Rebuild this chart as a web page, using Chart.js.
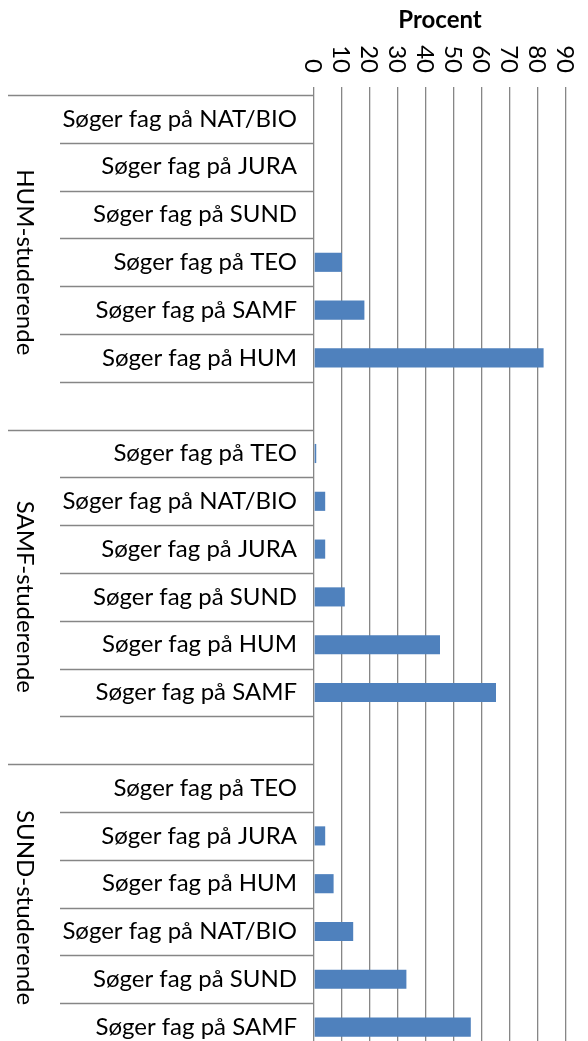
<!DOCTYPE html>
<html>
<head>
<meta charset="utf-8">
<script src="https://cdn.jsdelivr.net/npm/chart.js@4"></script>
<style>
  html, body { margin: 0; padding: 0; background: #fff; overflow: hidden; }
  canvas { display: block; }
</style>
</head>
<body>
<canvas id="myChart" width="588" height="1060"></canvas>
<script>
// rows per group, top to bottom
const humLabels = ["Søger fag på NAT/BIO", "Søger fag på JURA", "Søger fag på SUND", "Søger fag på TEO", "Søger fag på SAMF", "Søger fag på HUM"];
const humValues = [0, 0, 0, 10, 18, 82];

const samfLabels = ["Søger fag på TEO", "Søger fag på NAT/BIO", "Søger fag på JURA", "Søger fag på SUND", "Søger fag på HUM", "Søger fag på SAMF"];
const samfValues = [0.8, 4, 4, 11, 45, 65];

const sundLabels = ["Søger fag på TEO", "Søger fag på JURA", "Søger fag på HUM", "Søger fag på NAT/BIO", "Søger fag på SUND", "Søger fag på SAMF"];
const sundValues = [0, 4, 7, 14, 33, 56];

const groupNames = ["HUM-studerende", "SAMF-studerende", "SUND-studerende"];
const xTicks = [0, 10, 20, 30, 40, 50, 60, 70, 80, 90];

// blank row between groups, like the original
const labels = [...humLabels, "", ...samfLabels, "", ...sundLabels];
const values = [...humValues, null, ...samfValues, null, ...sundValues];
const groupRanges = [[0, 7], [7, 14], [14, 20]];

const FONT = "Lato, 'Open Sans', sans-serif";
const GRID = "#868686";

const extras = {
  id: "extras",
  afterDraw(chart) {
    const ctx = chart.ctx;
    const x = chart.scales.x;
    const y = chart.scales.y;
    const left = chart.chartArea.left;
    const starts = groupRanges.map((g) => g[0]);
    ctx.save();
    // row separators in the label area
    ctx.strokeStyle = GRID;
    ctx.lineWidth = 1.3;
    for (let i = 0; i <= labels.length; i++) {
      const py = Math.round(y.getPixelForValue(i - 0.5)) + 0.5;
      const x0 = starts.includes(i) ? 8 : 60;
      ctx.beginPath();
      ctx.moveTo(x0, py);
      ctx.lineTo(left, py);
      ctx.stroke();
    }
    // rotated x tick labels above the axis
    ctx.fillStyle = "#000";
    ctx.font = "24px " + FONT;
    ctx.textAlign = "right";
    ctx.textBaseline = "middle";
    xTicks.forEach((t) => {
      ctx.save();
      ctx.translate(x.getPixelForValue(t) - 1, 73);
      ctx.rotate(Math.PI / 2);
      ctx.fillText(String(t), 0, 0);
      ctx.restore();
    });
    // group labels
    ctx.textAlign = "center";
    groupRanges.forEach((g, k) => {
      const top = y.getPixelForValue(g[0] - 0.5);
      const bottom = y.getPixelForValue(g[1] - 0.5);
      ctx.save();
      ctx.translate(25, (top + bottom) / 2);
      ctx.rotate(Math.PI / 2);
      ctx.fillText(groupNames[k], 0, 0);
      ctx.restore();
    });
    ctx.restore();
  },
};

const ctx = document.getElementById("myChart").getContext("2d");
const chart = new Chart(ctx, {
  type: "bar",
  data: {
    labels: labels,
    datasets: [
      {
        data: values,
        backgroundColor: "#4F81BD",
        borderWidth: 0,
        categoryPercentage: 1,
        barPercentage: 0.4,
      },
    ],
  },
  options: {
    indexAxis: "y",
    responsive: false,
    animation: false,
    layout: { padding: { top: 0, left: 0, right: 22, bottom: 9 } },
    plugins: {
      legend: { display: false },
      tooltip: { enabled: false },
      title: {
        display: true,
        text: "Procent",
        fullSize: false,
        color: "#000",
        font: { family: FONT, size: 24, weight: "bold" },
        padding: { top: 6, bottom: 0 },
      },
    },
    scales: {
      x: {
        position: "top",
        min: 0,
        max: 90,
        ticks: { stepSize: 10, display: false },
        grid: { color: GRID, lineWidth: 1.3, tickLength: 8, drawTicks: true },
        border: { display: false },
        afterFit: (scale) => {
          scale.height = 95 - 34.8;
          scale.paddingLeft = 0;
          scale.paddingRight = 0;
        },
      },
      y: {
        grid: { display: false, drawTicks: false },
        border: { display: false },
        ticks: {
          color: "#000",
          padding: 17,
          font: { family: FONT, size: 24 },
          autoSkip: false,
        },
        afterFit: (scale) => {
          scale.width = 314;
          // keep label padding from shrinking the plot area
          scale.paddingTop = 0;
          scale.paddingBottom = 0;
        },
      },
    },
  },
  plugins: [extras],
});
</script>
</body>
</html>
